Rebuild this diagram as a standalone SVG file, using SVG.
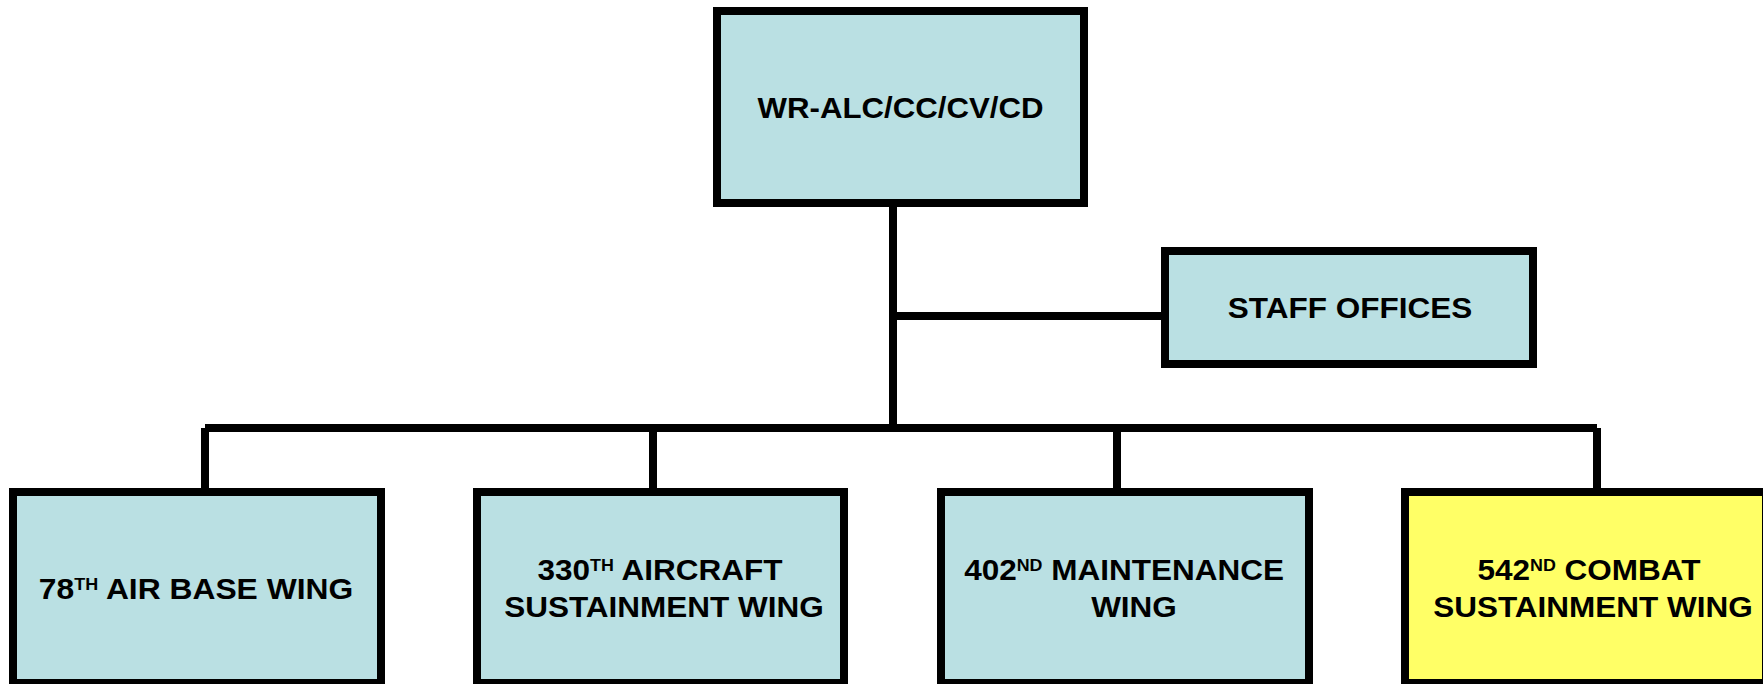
<svg xmlns="http://www.w3.org/2000/svg" width="1763" height="684" viewBox="0 0 1763 684">
<style>
.box{fill:#BAE0E3;stroke:#000;stroke-width:8}
.yel{fill:#FFFF66;stroke:#000;stroke-width:8}
.t{font-family:"Liberation Sans",Arial,sans-serif;font-weight:bold;font-size:30px;fill:#000;text-anchor:middle}
.sup{font-size:17px}
.c{stroke:#000;stroke-width:8;fill:none;stroke-linecap:butt}
</style>
<rect width="1763" height="684" fill="#fff"/>
<g id="connectors">
<line class="c" x1="893" y1="207" x2="893" y2="432"/>
<line class="c" x1="893" y1="316" x2="1161" y2="316"/>
<line class="c" x1="205" y1="428" x2="1597" y2="428"/>
<line class="c" x1="205" y1="428" x2="205" y2="488"/>
<line class="c" x1="653" y1="432" x2="653" y2="488"/>
<line class="c" x1="1117" y1="432" x2="1117" y2="488"/>
<line class="c" x1="1597" y1="428" x2="1597" y2="488"/>
</g>
<g id="node-wralc">
<rect class="box" x="717" y="11" width="367" height="192"/>
<text class="t" transform="translate(900.5,118) scale(1.04,1)">WR-ALC/CC/CV/CD</text>
</g>
<g id="node-staff">
<rect class="box" x="1165" y="251" width="368" height="113"/>
<text class="t" transform="translate(1350,318) scale(1.05,1)">STAFF OFFICES</text>
</g>
<g id="node-78">
<rect class="box" x="13" y="492" width="368" height="191"/>
<text class="t" transform="translate(196,599) scale(1.06,1)">78<tspan class="sup" dy="-9">TH</tspan><tspan dy="9"> AIR BASE WING</tspan></text>
</g>
<g id="node-330">
<rect class="box" x="477" y="492" width="367" height="191"/>
<text class="t" transform="translate(660,580) scale(1.05,1)">330<tspan class="sup" dy="-9">TH</tspan><tspan dy="9"> AIRCRAFT</tspan></text>
<text class="t" transform="translate(664,617) scale(1.05,1)">SUSTAINMENT WING</text>
</g>
<g id="node-402">
<rect class="box" x="941" y="492" width="368" height="191"/>
<text class="t" transform="translate(1124,580) scale(1.05,1)">402<tspan class="sup" dy="-9">ND</tspan><tspan dy="9"> MAINTENANCE</tspan></text>
<text class="t" transform="translate(1134,617) scale(1.05,1)">WING</text>
</g>
<g id="node-542">
<rect class="yel" x="1405" y="492" width="361" height="191"/>
<text class="t" transform="translate(1589,580) scale(1.05,1)">542<tspan class="sup" dy="-9">ND</tspan><tspan dy="9"> COMBAT</tspan></text>
<text class="t" transform="translate(1593,617) scale(1.05,1)">SUSTAINMENT WING</text>
</g>
</svg>
